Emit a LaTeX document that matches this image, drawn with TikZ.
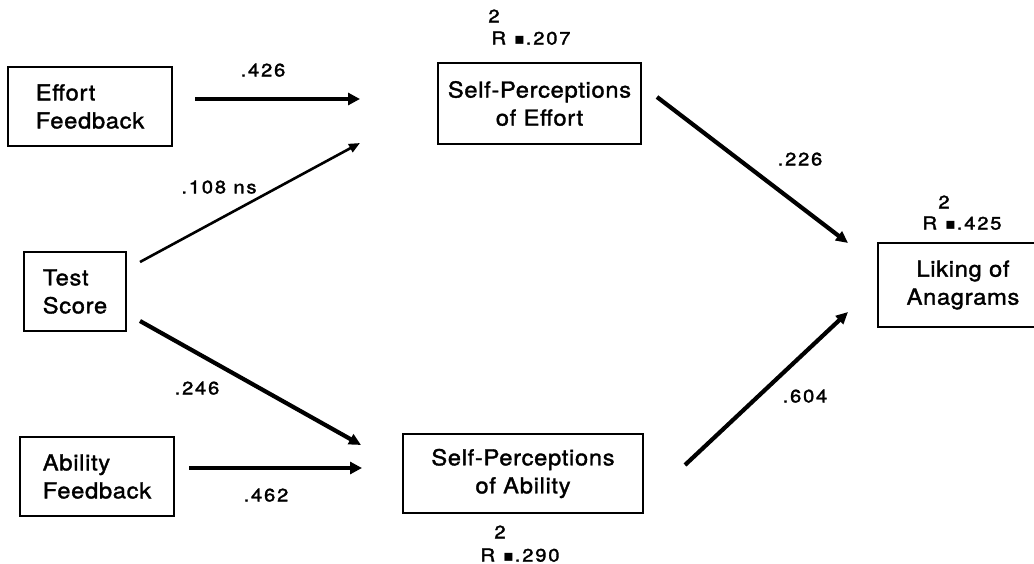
\documentclass[tikz,border=0pt]{standalone}
\usepackage{fontspec}
\setmainfont{TeX Gyre Heros}[FakeStretch=1.08, LetterSpace=3, FakeBold=1.5]
\newfontfamily\labfont{TeX Gyre Heros}[FakeStretch=1.12, LetterSpace=10, FakeBold=1.8]
\newfontfamily\sqfont{DejaVu Sans}
\usetikzlibrary{arrows.meta}
\tikzset{
  box/.style={draw, line width=1.2pt, inner sep=0pt, align=center,
    font=\fontsize{22}{28}\selectfont},
  lbox/.style={box, align=left},
  lab/.style={inner sep=0pt, text depth=0pt, font=\labfont\fontsize{18}{19}\selectfont},
  thick arrow/.style={line width=4.8pt, -{Triangle[length=12pt,width=12pt]}},
  mid arrow/.style={line width=4.2pt, -{Triangle[length=12pt,width=11pt]}},
  thin arrow/.style={line width=2.6pt, -{Triangle[length=11pt,width=9pt]}},
}
\newcommand{\rsq}[1]{R\hspace{8pt}{\sqfont\fontsize{16}{18}\selectfont ▪}\hspace{1pt}#1}
\begin{document}
\begin{tikzpicture}[x=1pt,y=-1pt]
\useasboundingbox (0,0) rectangle (1034,564);
% boxes
\node[lbox, minimum width=164pt, minimum height=79pt] (EF) at (90,106.5) {Effort\\Feedback};
\node[lbox, minimum width=102pt, minimum height=79pt] (TS) at (75,291.5) {Test\\Score};
\node[lbox, minimum width=154pt, minimum height=79pt] (AF) at (97,476.5) {Ability\\Feedback};
\node[box, minimum width=203pt, minimum height=81pt] (SPE) at (539.5,103.5) {Self-Perceptions\\of Effort};
\node[box, minimum width=240pt, minimum height=79pt] (SPA) at (523,473.5) {Self-Perceptions\\of Ability};
\node[box, minimum width=170pt, minimum height=84pt] (LA) at (963,285) {Liking of\\Anagrams};
% arrow end points
\coordinate (a1s) at (195,99);  \coordinate (a1e) at (360,99);
\coordinate (a2s) at (140,262); \coordinate (a2e) at (360,143);
\coordinate (a3s) at (140,321); \coordinate (a3e) at (361,445);
\coordinate (a4s) at (189,468); \coordinate (a4e) at (362,468);
\coordinate (a5s) at (657,97);  \coordinate (a5e) at (848,243);
\coordinate (a6s) at (685,465); \coordinate (a6e) at (848,312);
\draw[thick arrow] (a1s) -- (a1e);
\draw[thin arrow] (a2s) -- (a2e);
\draw[mid arrow] (a3s) -- (a3e);
\draw[thick arrow] (a4s) -- (a4e);
\draw[mid arrow] (a5s) -- (a5e);
\draw[mid arrow] (a6s) -- (a6e);
% path labels
\node[lab] (l1) at (263,70) {.426};
\node[lab] (l2) at (219,187) {.108 ns};
\node[lab] (l3) at (197,388) {.246};
\node[lab] (l4) at (266,495) {.462};
\node[lab] (l5) at (800,159) {.226};
\node[lab] (l6) at (805,396) {.604};
% R squared
\node[lab] (r1s) at (494,16) {2};
\node[lab] (r1) at (531,38) {\rsq{.207}};
\node[lab] (r2s) at (500,532) {2};
\node[lab] (r2) at (520,555) {\rsq{.290}};
\node[lab] (r3s) at (944,202) {2};
\node[lab] (r3) at (962,223) {\rsq{.425}};
\end{tikzpicture}
\end{document}
